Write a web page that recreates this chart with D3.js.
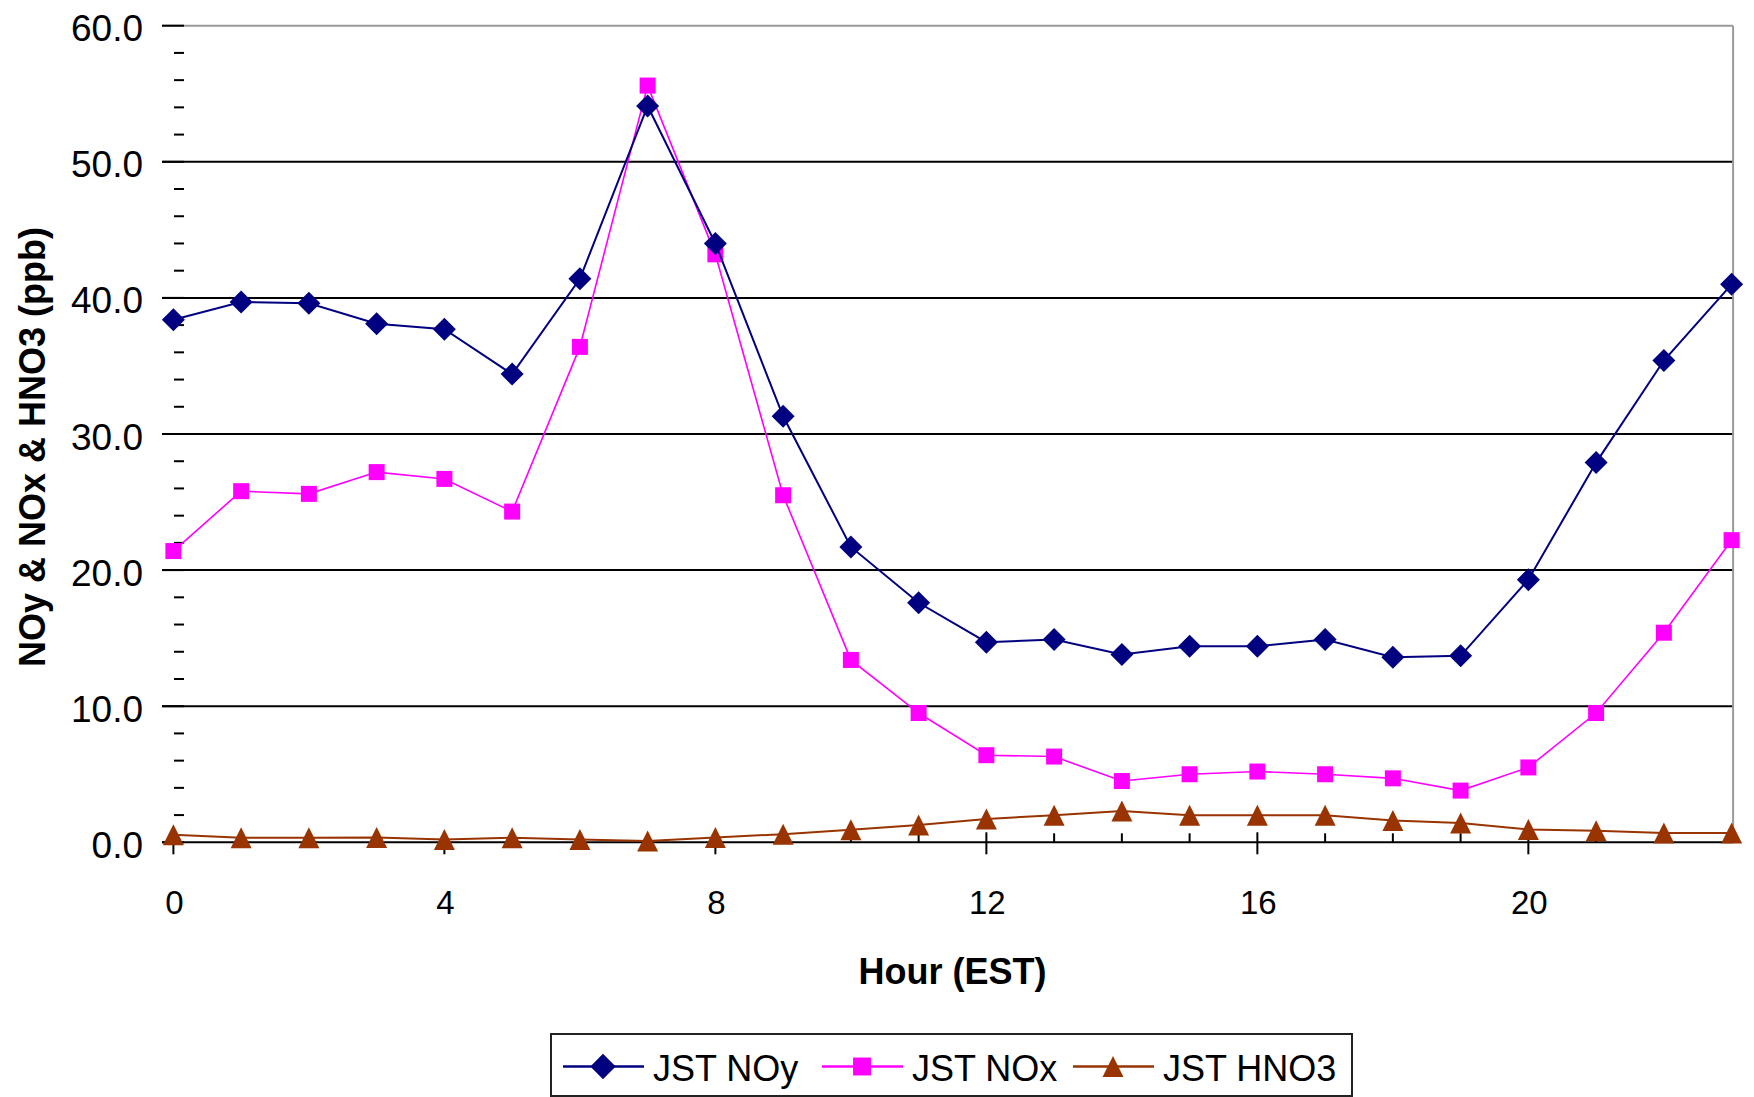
<!DOCTYPE html>
<html>
<head>
<meta charset="utf-8">
<script src="https://cdn.jsdelivr.net/npm/d3@7"></script>
<style>
  body { margin: 0; background: #fff; }
  text { font-family: "Liberation Sans", Arial, sans-serif; fill: #000; }
</style>
</head>
<body>
<div id="chart-area"></div>
<script>
// data (ppb by hour)
const hours = d3.range(0, 24);
const noy = [38.4, 39.7, 39.6, 38.1, 37.7, 34.4, 41.4, 54.1, 44.0, 31.3, 21.7, 17.6, 14.7, 14.9, 13.8, 14.4, 14.4, 14.9, 13.6, 13.7, 19.3, 27.9, 35.4, 41.0];
const nox = [21.4, 25.8, 25.6, 27.2, 26.7, 24.3, 36.4, 55.6, 43.2, 25.5, 13.4, 9.5, 6.4, 6.3, 4.5, 5.0, 5.2, 5.0, 4.7, 3.8, 5.5, 9.5, 15.4, 22.2];
const hno3 = [0.55, 0.33, 0.33, 0.36, 0.2, 0.33, 0.2, 0.1, 0.35, 0.6, 0.93, 1.27, 1.72, 1.98, 2.3, 1.98, 1.98, 1.98, 1.6, 1.42, 0.94, 0.85, 0.68, 0.68];
const seriesNames = ["JST NOy", "JST NOx", "JST HNO3"];
const xTicks = [0, 4, 8, 12, 16, 20];
const yTicks = [0, 10, 20, 30, 40, 50, 60];

(function () {
  const W = 1754, H = 1097;
  const plot = { left: 173.4, right: 1731.6, top: 25.7, bottom: 842.3 };

  const svg = d3.select("#chart-area").append("svg")
    .attr("width", W).attr("height", H)
    .style("display", "block");

  const x = d3.scaleLinear().domain([0, 23]).range([plot.left, plot.right]);
  const y = d3.scaleLinear().domain([0, 60]).range([plot.bottom, plot.top]);

  const shapes = {
    diamond: "M0,-11.5L11.5,0L0,11.5L-11.5,0Z",
    square: "M-8,-8H8V8H-8Z",
    triangle: "M0,-10.5L10.5,10.5L-10.5,10.5Z"
  };

  const series = [
    { name: seriesNames[0], values: noy, color: "#000080", width: 2, shape: "diamond" },
    { name: seriesNames[1], values: nox, color: "#ff00ff", width: 1.6, shape: "square" },
    { name: seriesNames[2], values: hno3, color: "#993300", width: 2, shape: "triangle" }
  ];

  // gridlines (top one is the gray plot border)
  svg.append("g").selectAll("line")
    .data(yTicks.filter((d) => d > 0))
    .join("line")
    .attr("x1", 162).attr("x2", plot.right + 1.5)
    .attr("y1", (d) => y(d)).attr("y2", (d) => y(d))
    .attr("stroke", (d) => (d === 60 ? "#9a9a9a" : "#000"))
    .attr("stroke-width", 2);

  // right border
  svg.append("line")
    .attr("x1", plot.right + 1.5).attr("x2", plot.right + 1.5)
    .attr("y1", y(60)).attr("y2", y(0))
    .attr("stroke", "#9a9a9a").attr("stroke-width", 2);

  // y ticks: major cross, minor inside
  svg.append("g").selectAll("line")
    .data(yTicks)
    .join("line")
    .attr("x1", 162).attr("x2", 184)
    .attr("y1", (d) => y(d)).attr("y2", (d) => y(d))
    .attr("stroke", "#000").attr("stroke-width", 2);

  svg.append("g").selectAll("line")
    .data(d3.range(0, 60, 2).filter((d) => d % 10 !== 0))
    .join("line")
    .attr("x1", 174).attr("x2", 184)
    .attr("y1", (d) => y(d)).attr("y2", (d) => y(d))
    .attr("stroke", "#000").attr("stroke-width", 2);

  svg.append("g").selectAll("text")
    .data(yTicks)
    .join("text")
    .attr("x", 143)
    .attr("y", (d) => y(d) + 15.5)
    .attr("text-anchor", "end")
    .style("font-size", "37px")
    .text((d) => d3.format(".1f")(d));

  // x axis
  svg.append("line")
    .attr("x1", 162).attr("x2", plot.right + 1.5)
    .attr("y1", y(0)).attr("y2", y(0))
    .attr("stroke", "#000").attr("stroke-width", 2);

  svg.append("g").selectAll("line")
    .data(hours)
    .join("line")
    .attr("x1", (d) => x(d)).attr("x2", (d) => x(d))
    .attr("y1", (d) => (xTicks.includes(d) ? y(0) - 10 : y(0) - 9))
    .attr("y2", (d) => (xTicks.includes(d) ? y(0) + 12 : y(0)))
    .attr("stroke", "#000").attr("stroke-width", 2);

  svg.append("g").selectAll("text")
    .data(xTicks)
    .join("text")
    .attr("x", (d) => x(d) + 1)
    .attr("y", 914)
    .attr("text-anchor", "middle")
    .style("font-size", "33px")
    .text((d) => d);

  // axis titles
  svg.append("text")
    .attr("x", (plot.left + plot.right) / 2)
    .attr("y", 984)
    .attr("text-anchor", "middle")
    .style("font-size", "36px").style("font-weight", "bold")
    .text("Hour (EST)");

  svg.append("text")
    .attr("transform", "translate(45,447) rotate(-90)")
    .attr("text-anchor", "middle")
    .style("font-size", "36px").style("font-weight", "bold")
    .text("NOy & NOx & HNO3 (ppb)");

  // series, NOy on top
  const line = d3.line().x((d, i) => x(hours[i])).y((d) => y(d));

  series.slice().reverse().forEach((s) => {
    const g = svg.append("g");
    g.append("path")
      .datum(s.values)
      .attr("fill", "none")
      .attr("stroke", s.color)
      .attr("stroke-width", s.width)
      .attr("d", line);
    g.selectAll("path.m")
      .data(s.values)
      .join("path")
      .attr("class", "m")
      .attr("d", shapes[s.shape])
      .attr("transform", (d, i) => `translate(${x(hours[i])},${y(d)})`)
      .attr("fill", s.color);
  });

  // legend
  const legend = svg.append("g");
  legend.append("rect")
    .attr("x", 551).attr("y", 1034)
    .attr("width", 801).attr("height", 62)
    .attr("fill", "#fff").attr("stroke", "#222").attr("stroke-width", 2);

  const legendX = [563, 822, 1073];
  const legendScale = { diamond: 1.1, square: 1.12, triangle: 1 };
  series.forEach((s, i) => {
    const lx = legendX[i];
    const item = legend.append("g");
    item.append("line")
      .attr("x1", lx).attr("x2", lx + 81)
      .attr("y1", 1066.5).attr("y2", 1066.5)
      .attr("stroke", s.color).attr("stroke-width", 2.5);
    item.append("path")
      .attr("d", shapes[s.shape])
      .attr("transform", `translate(${lx + 40},1066.5) scale(${legendScale[s.shape]})`)
      .attr("fill", s.color);
    item.append("text")
      .attr("x", lx + 90)
      .attr("y", 1081)
      .style("font-size", "36px")
      .text(s.name);
  });
})();
</script>
</body>
</html>
